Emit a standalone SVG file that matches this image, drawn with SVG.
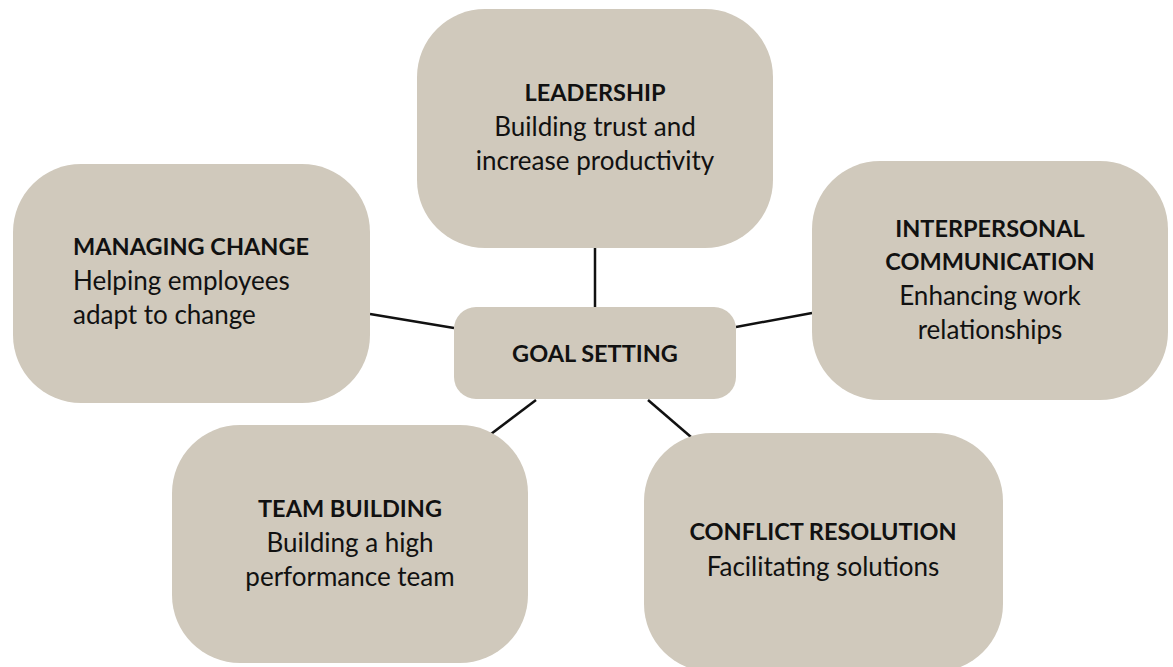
<svg xmlns="http://www.w3.org/2000/svg" width="1173" height="667" viewBox="0 0 1173 667">
<style>
.box{fill:#D0C9BC}
.t{font-family:Lato,"Open Sans",sans-serif;font-size:26px;fill:#111;text-anchor:middle}
.b{font-weight:bold;font-size:23.5px}
.l{text-anchor:start}
.c{stroke:#111;stroke-width:2.5;fill:none}
</style>
<rect width="1173" height="667" fill="#fff"/>
<g id="connectors">
<line class="c" x1="595" y1="248" x2="595" y2="307"/>
<line class="c" x1="370" y1="314" x2="454" y2="328"/>
<line class="c" x1="736" y1="327" x2="812" y2="313"/>
<line class="c" x1="491" y1="434" x2="536" y2="400"/>
<line class="c" x1="648" y1="400" x2="691" y2="437"/>
</g>
<g id="leadership">
<rect class="box" x="417" y="9" width="356" height="239" rx="68"/>
<text class="t b" x="595" y="101">LEADERSHIP</text>
<text class="t" x="595" y="136">Building trust and</text>
<text class="t" x="595" y="170">increase productivity</text>
</g>
<g id="goal-setting">
<rect class="box" x="454" y="307" width="282" height="92" rx="22"/>
<text class="t b" x="595" y="362">GOAL SETTING</text>
</g>
<g id="managing-change">
<rect class="box" x="13" y="164" width="357" height="239" rx="68"/>
<text class="t b l" x="73" y="255">MANAGING CHANGE</text>
<text class="t l" x="73" y="290">Helping employees</text>
<text class="t l" x="73" y="324">adapt to change</text>
</g>
<g id="interpersonal-communication">
<rect class="box" x="812" y="161" width="356" height="239" rx="68"/>
<text class="t b" x="990" y="237">INTERPERSONAL</text>
<text class="t b" x="990" y="270">COMMUNICATION</text>
<text class="t" x="990" y="305">Enhancing work</text>
<text class="t" x="990" y="339">relationships</text>
</g>
<g id="team-building">
<rect class="box" x="172" y="425" width="356" height="238" rx="68"/>
<text class="t b" x="350" y="517">TEAM BUILDING</text>
<text class="t" x="350" y="552">Building a high</text>
<text class="t" x="350" y="586">performance team</text>
</g>
<g id="conflict-resolution">
<rect class="box" x="644" y="433" width="359" height="239" rx="68"/>
<text class="t b" x="823" y="540">CONFLICT RESOLUTION</text>
<text class="t" x="823" y="576">Facilitating solutions</text>
</g>
</svg>
